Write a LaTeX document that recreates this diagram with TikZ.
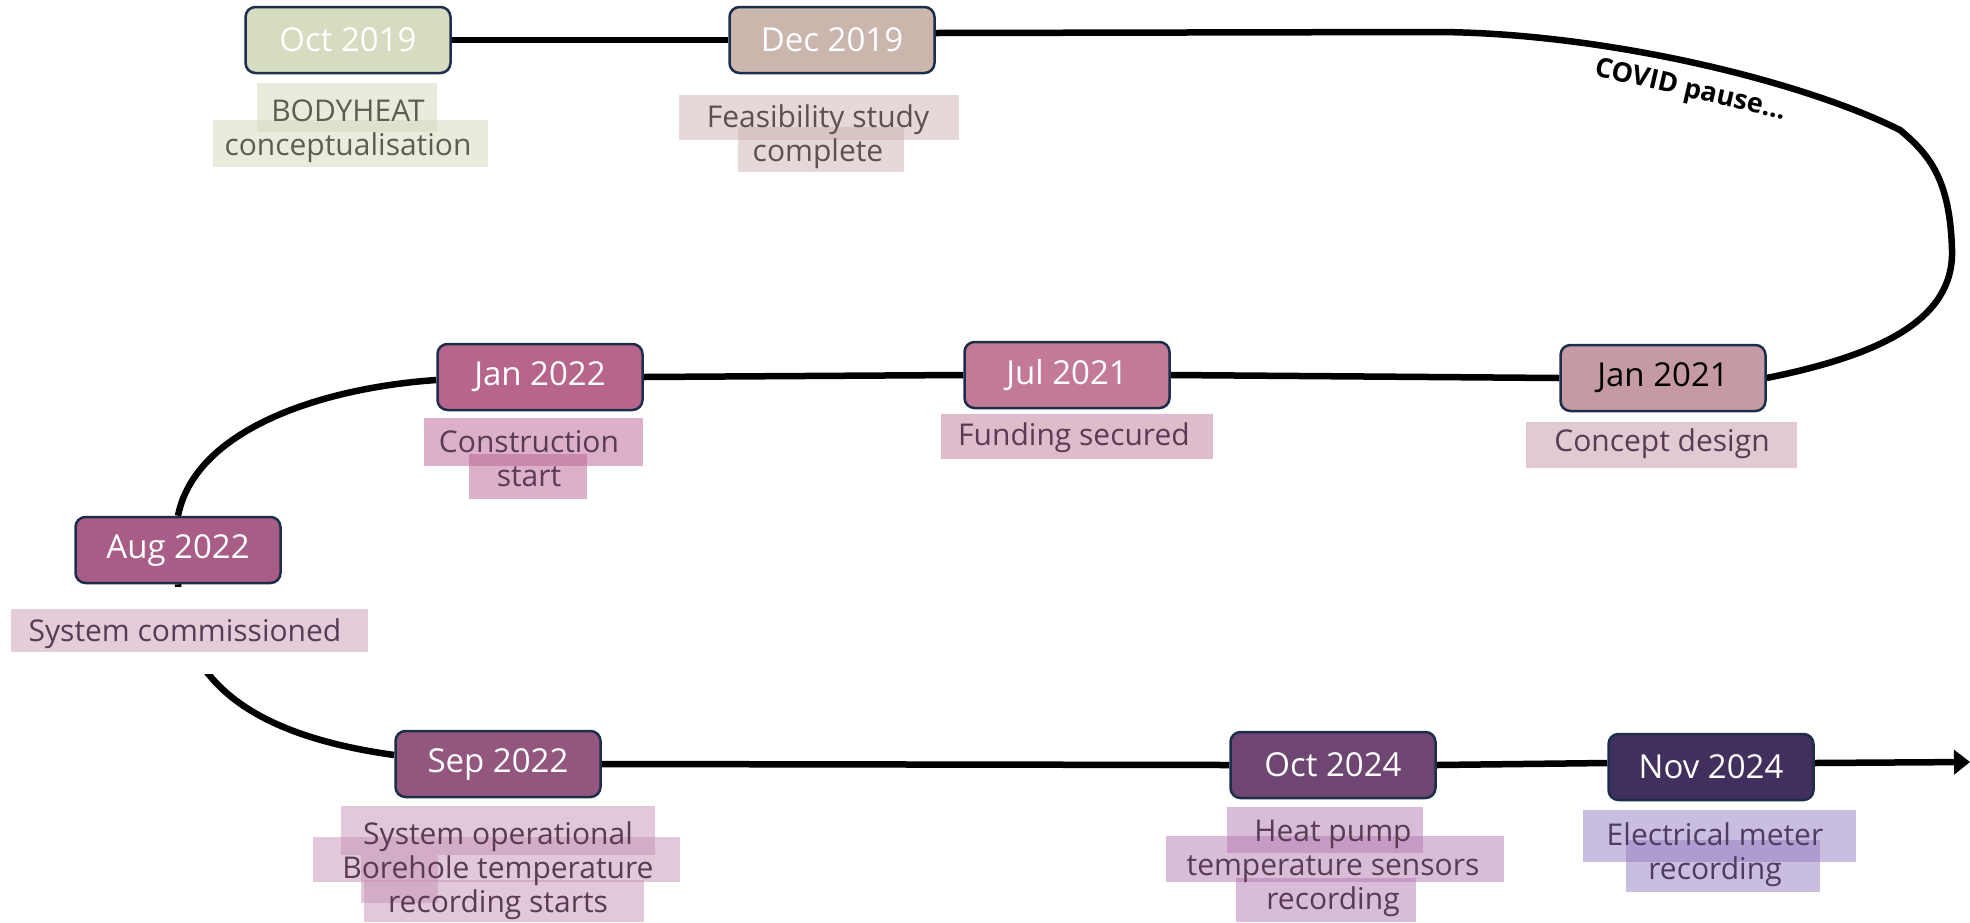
\documentclass[tikz,border=0pt]{standalone}
\usepackage{fontspec}
\setmainfont{Open Sans}
\usetikzlibrary{arrows.meta}
\pgfdeclarelayer{lines}
\pgfdeclarelayer{hl}
\pgfsetlayers{lines,hl,main}
\definecolor{boxline}{HTML}{1C2E4A}
\definecolor{cOct19}{HTML}{D6DCC0}
\definecolor{cDec19}{HTML}{CBB6AE}
\definecolor{cJan21}{HTML}{C59AA4}
\definecolor{cJul21}{HTML}{C27A96}
\definecolor{cJan22}{HTML}{B8658B}
\definecolor{cAug22}{HTML}{A85D86}
\definecolor{cSep22}{HTML}{93567E}
\definecolor{cOct24}{HTML}{6F4571}
\definecolor{cNov24}{HTML}{41305D}
\definecolor{hBody}{HTML}{D3D9BB}
\definecolor{hFeas}{HTML}{CDB1B1}
\definecolor{hConc}{HTML}{C795A5}
\definecolor{hFund}{HTML}{BF7997}
\definecolor{hCons}{HTML}{B96191}
\definecolor{hComm}{HTML}{CD9BB5}
\definecolor{hSep}{HTML}{C591B3}
\definecolor{hOct}{HTML}{B379B1}
\definecolor{hNov}{HTML}{937BC1}
\definecolor{tGreen}{HTML}{5C5F50}
\definecolor{tBrown}{HTML}{5E5050}
\definecolor{tPlum}{HTML}{593C54}
\definecolor{tViolet}{HTML}{4D3D5E}
\begin{document}
\begin{tikzpicture}[x=1pt,y=-1pt,
  datebox/.style={draw=boxline, line width=2.5pt, rounded corners=10pt,
    minimum width=205pt, minimum height=66pt, inner sep=0pt, text=white,
    font=\fontsize{33}{38}\selectfont},
  lbl/.style={align=center, inner sep=0pt, font=\fontsize{30}{34}\selectfont},
  conn/.style={line width=6.5pt, draw=black},
  hlt/.style={fill opacity=0.5}]
\useasboundingbox (0,0) rectangle (1970,922);

% date boxes
\node[datebox, fill=cOct19] (oct19) at (348,40) {Oct 2019};
\node[datebox, fill=cDec19] (dec19) at (832,40) {Dec 2019};
\node[datebox, fill=cJan21, text=black] (jan21) at (1663,378) {Jan 2021};
\node[datebox, fill=cJul21] (jul21) at (1067,375) {Jul 2021};
\node[datebox, fill=cJan22] (jan22) at (540,377) {Jan 2022};
\node[datebox, fill=cAug22] (aug22) at (178,550) {Aug 2022};
\node[datebox, fill=cSep22] (sep22) at (498,764) {Sep 2022};
\node[datebox, fill=cOct24] (oct24) at (1333,765) {Oct 2024};
\node[datebox, fill=cNov24] (nov24) at (1711,767) {Nov 2024};

% labels
\node[lbl, text=tGreen] (lbody) at (348,131) {BODYHEAT\\conceptualisation};
\node[lbl, text=tBrown] (lfeas) at (818,137) {Feasibility study\\complete};
\node[lbl, text=tPlum] (lconc) at (1662,444) {Concept design};
\node[lbl, text=tPlum] (lfund) at (1074,438) {Funding secured};
\node[lbl, text=tPlum] (lcons) at (529,459) {Construction\\start};
\node[lbl, text=tPlum] (lcomm) at (185,634) {System commissioned};
\node[lbl, text=tPlum] (lsep) at (498,871) {System operational\\Borehole temperature\\recording starts};
\node[lbl, text=tPlum] (loct) at (1333,868) {Heat pump\\temperature sensors\\recording};
\node[lbl, text=tViolet] (lnov) at (1715,855) {Electrical meter\\recording};

\node[font=\bfseries\fontsize{27}{30}\selectfont, rotate=-13, inner sep=0pt] (covid) at (1690,91) {COVID pause…};

\coordinate (endarrow) at (1970,762);

% highlights
\begin{pgfonlayer}{hl}
\fill[white] (0,587) rectangle (382,674);
\fill[hBody, hlt] (257,83) rectangle (437,132);
\fill[hBody, hlt] (213,120) rectangle (488,167);
\fill[hFeas, hlt] (679,95) rectangle (959,140);
\fill[hFeas, hlt] (738,127) rectangle (904,172);
\fill[hConc, hlt] (1526,422) rectangle (1797,468);
\fill[hFund, hlt] (941,414) rectangle (1213,459);
\fill[hCons, hlt] (424,418) rectangle (643,466);
\fill[hCons, hlt] (469,454) rectangle (587,499);
\fill[hComm, hlt] (11,609) rectangle (368,652);
\fill[hSep, hlt] (341,806) rectangle (655,855);
\fill[hSep, hlt] (313,837) rectangle (680,882);
\fill[hSep, hlt] (364,880) rectangle (644,922);
\fill[hSep, hlt] (361,855) rectangle (438,903);
\fill[hOct, hlt] (1227,807) rectangle (1423,853);
\fill[hOct, hlt] (1166,836) rectangle (1504,882);
\fill[hOct, hlt] (1236,878) rectangle (1416,922);
\fill[hNov, hlt] (1583,810) rectangle (1856,862);
\fill[hNov, hlt] (1626,840) rectangle (1820,892);
\end{pgfonlayer}

% connectors
\begin{pgfonlayer}{lines}
\draw[conn] (oct19.east) -- (dec19.west);
\draw[conn] (dec19.east |- 0,33) -- (1433,32)
  .. controls (1600,32) and (1800,80) .. (1900,130)
  .. controls (1930,155) and (1950,180) .. (1952,250)
  .. controls (1954,320) and (1880,355) .. (jan21.east);
\draw[conn] (jan21.west) -- (jul21.east);
\draw[conn] (jul21.west) -- (jan22.east);
\draw[conn] (jan22.west |- 0,380) .. controls (320,388) and (195,430) .. (aug22.north);
\draw[conn] (aug22.south) .. controls (180,680) and (250,735) .. (sep22.west |- 0,755);
\draw[conn] (sep22.east) -- (oct24.west);
\draw[conn] (oct24.east) -- (nov24.west |- 0,763);
\draw[conn, -{Triangle[length=16pt,width=24pt]}] (nov24.east |- 0,763) -- (endarrow);
\end{pgfonlayer}
\end{tikzpicture}
\end{document}
